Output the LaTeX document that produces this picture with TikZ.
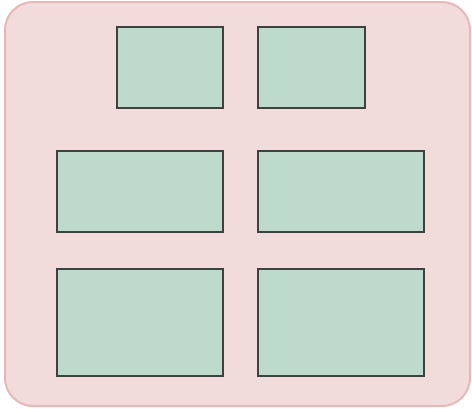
\documentclass[tikz,border=0pt]{standalone}
\usepackage{tikz}
\usetikzlibrary{positioning}
\definecolor{panelpink}{HTML}{F2DCDB}
\definecolor{panelline}{HTML}{E6B8B7}
\definecolor{boxgreen}{HTML}{BEDACC}
\definecolor{boxline}{HTML}{404040}
\tikzset{
  block/.style={draw=boxline,fill=boxgreen,line width=1.2pt,inner sep=0pt,outer sep=0pt},
}

\begin{document}
\begin{tikzpicture}[x=1pt,y=-1pt]
\useasboundingbox (0,0) rectangle (472,408);
\node[draw=panelline,fill=panelpink,line width=2pt,rounded corners=28pt,inner sep=0pt,minimum width=465pt,minimum height=404pt] (panel) at (237.5,204) {};
\node[block,minimum width=106pt,minimum height=81pt] (tl) at (170,67.5) {};
\node[block,minimum width=107pt,minimum height=81pt] (tr) at (311.5,67.5) {};
\node[block,minimum width=166pt,minimum height=81pt] (ml) at (140,191.5) {};
\node[block,minimum width=166pt,minimum height=81pt] (mr) at (341,191.5) {};
\node[block,minimum width=166pt,minimum height=107pt] (bl) at (140,322.5) {};
\node[block,minimum width=166pt,minimum height=107pt] (br) at (341,322.5) {};
\end{tikzpicture}
\end{document}
